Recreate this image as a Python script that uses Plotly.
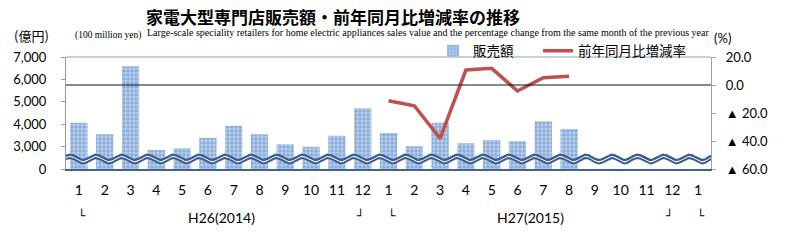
import numpy as np
import plotly.graph_objects as go

# ---- data ----
month_labels = ["1", "2", "3", "4", "5", "6", "7", "8", "9", "10", "11", "12",
                "1", "2", "3", "4", "5", "6", "7", "8", "9", "10", "11", "12", "1"]
sales = [4070, 3550, 6590, 2850, 2930, 3400, 3930, 3550, 3110, 2990, 3480, 4710,
         3610, 3020, 4070, 3150, 3300, 3240, 4130, 3790, None, None, None, None, None]
yoy_x = [12, 13, 14, 15, 16, 17, 18, 19]
yoy = [-11.2, -14.8, -38.1, 10.7, 11.9, -4.3, 5.2, 6.2]
left_tickvals = [2000, 3000, 4000, 5000, 6000, 7000]
left_ticktext = ["0", "3,000", "4,000", "5,000", "6,000", "7,000"]
right_tickvals = [-60, -40, -20, 0, 20]
right_ticktext = ["▲ 60.0", "▲ 40.0", "▲ 20.0", "0.0", "20.0"]
year_labels = ["H26(2014)", "H27(2015)"]

# ---- layout geometry (pixels) ----
W, H = 786, 246
L, R, T, B = 66, 711, 57, 169
PW, PH = R - L, B - T
def px(x):
    return (x - L) / PW
def py(y):
    return (B - y) / PH

NUM_FONT = "Lato, Noto Sans, sans-serif"
JP_FONT = "Noto Sans CJK JP"

fig = go.Figure()

xs = list(range(len(month_labels)))
fig.add_trace(go.Bar(
    x=xs, y=sales, width=0.67, name="販売額",
    marker=dict(color="#BCD0EC", line=dict(width=0),
                pattern=dict(shape=".", fgcolor="#5585C6", size=4, solidity=0.55)),
    yaxis="y", showlegend=True, legend="legend",
))

# wavy axis-break marker (decoration)
wx = np.linspace(-0.5, len(month_labels) - 0.5, 1500)
upper = 2520 - 120 * np.cos(2 * np.pi * (wx - 0.15))
lower = upper - 150
wave_col = "#3A5E93"
fig.add_trace(go.Scatter(x=wx, y=upper, mode="lines", line=dict(color=wave_col, width=2),
                         showlegend=False, hoverinfo="skip", yaxis="y"))
fig.add_trace(go.Scatter(x=wx, y=lower, mode="lines", line=dict(color=wave_col, width=2),
                         fill="tonexty", fillcolor="white",
                         showlegend=False, hoverinfo="skip", yaxis="y"))
fig.add_trace(go.Scatter(x=wx, y=upper, mode="lines", line=dict(color=wave_col, width=2),
                         showlegend=False, hoverinfo="skip", yaxis="y"))

fig.add_trace(go.Scatter(
    x=yoy_x, y=yoy, mode="lines", name="前年同月比増減率",
    line=dict(color="#C0504D", width=3.5), yaxis="y2", legend="legend2",
))

def note(text, x, y, xanchor="left", size=13, family=NUM_FONT):
    return dict(text=text, x=px(x), y=py(y), xref="paper", yref="paper",
                xanchor=xanchor, yanchor="middle", showarrow=False,
                font=dict(family=family, size=size, color="black"))

ann = []
ann.append(note("<b>家電大型専門店販売額・前年同月比増減率の推移</b>", 333, 16, "center", 17, JP_FONT))
ann.append(note("Large-scale speciality retailers for home electric appliances sales value and the percentage change from the same month of the previous year",
                145, 32.5, "left", 10, "Liberation Serif"))
ann.append(note("(億円)", 12, 35, "left", 13, JP_FONT))
ann.append(note("(100 million yen)", 73, 35, "left", 9.5, "Liberation Serif"))
ann.append(note("(%)", 712, 38, "left", 13, NUM_FONT))
for lab, cx in zip(year_labels, [221, 530]):
    ann.append(note(lab, cx, 217, "center", 14, NUM_FONT))
# range brackets
for i, ch in [(0, "└"), (11, "┘"), (12, "└"), (23, "┘"), (24, "└")]:
    ann.append(dict(text=ch, x=i, xref="x", y=py(215), yref="paper",
                    xanchor="left" if ch == "└" else "right", yanchor="middle",
                    xshift=-3 if ch == "└" else 3, showarrow=False,
                    font=dict(family="DejaVu Sans", size=12, color="black")))

shapes = [
    dict(type="line", xref="paper", yref="y2", x0=0, x1=1, y0=0, y1=0,
         line=dict(color="#111111", width=1), layer="above"),
    dict(type="line", xref="paper", yref="paper", x0=0, x1=1, y0=1, y1=1,
         line=dict(color="#8EA2C4", width=1.2)),
]

leg_common = dict(orientation="h", yanchor="middle", y=py(51), xanchor="left",
                  font=dict(family=JP_FONT, size=13.5, color="black"),
                  bgcolor="rgba(0,0,0,0)", borderwidth=0)

fig.update_layout(
    width=W, height=H,
    margin=dict(l=L, r=W - R, t=T, b=H - B, pad=0),
    paper_bgcolor="white", plot_bgcolor="white",
    showlegend=True,
    legend=dict(x=px(433), **leg_common),
    legend2=dict(x=px(538), **leg_common),
    annotations=ann, shapes=shapes,
    xaxis=dict(range=[-0.5, len(month_labels) - 0.5], tickvals=xs, ticktext=month_labels,
               showgrid=False, zeroline=False, showline=True, linecolor="#3F6296", linewidth=1.5,
               ticks="", ticklabelstandoff=7,
               tickfont=dict(family=NUM_FONT, size=14, color="black")),
    yaxis=dict(range=[2000, 7000], tickvals=left_tickvals, ticktext=left_ticktext,
               showgrid=False, zeroline=False, showline=True, linecolor="#8C9CB5", linewidth=1.2,
               ticks="outside", ticklen=4, tickcolor="#8C9CB5", ticklabelstandoff=12,
               tickfont=dict(family=NUM_FONT, size=13, color="black")),
    yaxis2=dict(range=[-60, 20], tickvals=right_tickvals, ticktext=right_ticktext,
                overlaying="y", side="right", showgrid=False, zeroline=False,
                showline=True, linecolor="#A0A0A0", linewidth=1.2,
                ticks="outside", ticklen=4, tickcolor="#A0A0A0", ticklabelstandoff=7,
                tickfont=dict(family=NUM_FONT, size=13, color="black")),
)

fig.write_html("out.html")
